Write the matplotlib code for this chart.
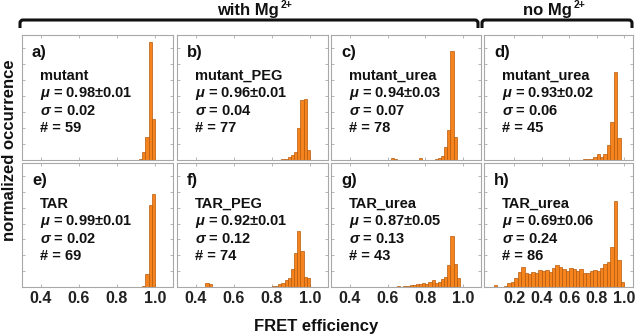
import numpy as np
import matplotlib
matplotlib.use("Agg")
import matplotlib.pyplot as plt
from matplotlib.path import Path
from matplotlib.patches import PathPatch

plt.rcParams['font.family'] = ['Liberation Sans', 'DejaVu Sans']
plt.rcParams['mathtext.fontset'] = 'custom'
plt.rcParams['mathtext.it'] = 'Liberation Sans:italic:bold'
plt.rcParams['mathtext.bf'] = 'Liberation Sans:bold'
plt.rcParams['mathtext.rm'] = 'Liberation Sans:bold'

# ---------------- data ----------------
letters = ["a)", "b)", "c)", "d)", "e)", "f)", "g)", "h)"]
samples = ["mutant", "mutant_PEG", "mutant_urea", "mutant_urea",
           "TAR", "TAR_PEG", "TAR_urea", "TAR_urea"]
mu_vals = ["0.98±0.01", "0.96±0.01", "0.94±0.03", "0.93±0.02",
           "0.99±0.01", "0.92±0.01", "0.87±0.05", "0.69±0.06"]
sigma_vals = ["0.02", "0.04", "0.07", "0.06", "0.02", "0.12", "0.13", "0.24"]
counts = ["59", "77", "78", "45", "69", "74", "43", "86"]
group_main = ["with Mg", "no Mg"]
group_sup = ["2+", "2+"]
xlabel = "FRET efficiency"
ylabel = "normalized occurrence"

# histograms, fine bins (width 1/60) for a-c, e-g; bins of 0.025 for d, h
bin_fine = 1 / 60
bin_wide = 0.025
# (first bin index, heights)
hist_a = (51, [0.005, 0.005, 0.005, 0.005, 0.01, 0.08, 0.23, 1.18, 0.41])
hist_b = (50, [0.005, 0.01, 0.01, 0.03, 0.05, 0.08, 0.32, 0.60, 0.61, 0.10])
hist_c = (30, [0.0, 0.0, 0.0, 0.0, 0.0, 0.004, 0.004, 0.025, 0.01, 0.004,
               0.004, 0.004, 0.004, 0.004, 0.004, 0.004, 0.02, 0.004, 0.004,
               0.004, 0.004, 0.01, 0.02, 0.04, 0.13, 0.30, 1.09, 0.23])
hist_d = (24, [0.004, 0.004, 0.004, 0.005, 0.01, 0.01, 0.01, 0.03, 0.06,
               0.03, 0.06, 0.15, 0.38, 0.88, 0.22])
hist_e = (54, [0.004, 0.005, 0.01, 0.13, 0.83, 0.94])
hist_f = (27, [0.04, 0.03, 0.0, 0.0, 0.0, 0.0, 0.0, 0.0, 0.0,
               0.0, 0.0, 0.0, 0.0, 0.0, 0.0, 0.0, 0.004, 0.004, 0.004,
               0.004, 0.004, 0.01, 0.01, 0.03, 0.04, 0.07, 0.09, 0.18, 0.34,
               0.56, 0.36, 0.10, 0.09])
hist_g = (33, [0.004, 0.004, 0.004, 0.005, 0.005, 0.005, 0.01, 0.005, 0.01,
               0.01, 0.02, 0.02, 0.03, 0.03, 0.04, 0.03, 0.05, 0.07, 0.04,
               0.05, 0.08, 0.10, 0.22, 0.51, 0.23, 0.09])
hist_h = (2, [0.02, 0.0, 0.0, 0.01, 0.04, 0.05, 0.09, 0.15, 0.20, 0.14,
              0.13, 0.15, 0.14, 0.17, 0.16, 0.17, 0.15, 0.19, 0.22, 0.20,
              0.18, 0.16, 0.19, 0.18, 0.16, 0.18, 0.14, 0.14, 0.16, 0.17,
              0.16, 0.19, 0.23, 0.25, 0.40, 0.87, 0.27, 0.05])
hists = [hist_a, hist_b, hist_c, hist_d, hist_e, hist_f, hist_g, hist_h]
widths = [bin_fine, bin_fine, bin_fine, bin_wide, bin_fine, bin_fine, bin_fine, bin_wide]

xticks_narrow = [0.4, 0.6, 0.8, 1.0]
xticks_wide = [0.2, 0.4, 0.6, 0.8, 1.0]

# ---------------- figure ----------------
W, H = 635, 334
fig = plt.figure(figsize=(W / 100, H / 100), dpi=100)

col_x = [22, 177, 331, 484]
col_w = [151, 151, 150, 149]
row_y = [35, 163]
row_h = [125, 124]

bar_face = '#F5841F'
bar_edge = '#B75A0A'
frame_col = '#A8A8A8'

for i in range(8):
    r, c = divmod(i, 4)
    ax = fig.add_axes([col_x[c] / W, 1 - (row_y[r] + row_h[r]) / H,
                       col_w[c] / W, row_h[r] / H])
    start, vals = hists[i]
    w = widths[i]
    centers = (np.arange(start, start + len(vals)) + 0.5) * w
    ax.bar(centers, vals, width=w, color=bar_face, edgecolor=bar_edge,
           linewidth=0.5, zorder=2)
    if c == 3:
        ax.set_xlim(-0.02, 1.065)
        ax.set_xticks(xticks_wide)
    else:
        ax.set_xlim(0.3, 1.095)
        ax.set_xticks(xticks_narrow)
    ax.set_ylim(0, 1.25)
    ax.set_yticks(np.arange(0, 1.25, 0.16))
    ax.tick_params(direction='in', length=2, width=0.6, color=frame_col,
                   top=True, right=True, labelleft=False,
                   labelsize=11.5, pad=3)
    for lab in ax.get_xticklabels():
        lab.set_fontweight('bold')
        lab.set_color('#222222')
    if r == 0:
        ax.tick_params(labelbottom=False)
    for s in ax.spines.values():
        s.set_color(frame_col)
        s.set_linewidth(0.8)
    ax.text(10 / col_w[c], 1 - 18 / row_h[r], letters[i], transform=ax.transAxes,
            fontsize=12, fontweight='bold', va='center', ha='left', color='#111111')
    lines = [samples[i], "$\\mu$ = " + mu_vals[i], "$\\sigma$ = " + sigma_vals[i],
             "# = " + counts[i]]
    for k, t in enumerate(lines):
        ax.text(18 / col_w[c], 1 - (41 + 17.5 * k) / row_h[r], t,
                transform=ax.transAxes, fontsize=10.5, fontweight='bold',
                va='center', ha='left', color='#111111')

fig.text(316 / W, 1 - 326 / H, xlabel, fontsize=12, fontweight='bold',
         ha='center', va='center', color='#111111')
fig.text(10 / W, 1 - 150 / H, ylabel, fontsize=12, fontweight='bold',
         ha='center', va='center', rotation=90, color='#111111')


def bracket(x0, x1, y, drop):
    xs0, xs1 = x0 / W, x1 / W
    yf = 1 - y / H
    yd = 1 - (y + drop) / H
    r = 3 / W
    rv = 3 / H
    verts = [(xs0, yd), (xs0, yf - rv), (xs0, yf), (xs0 + r, yf),
             (xs1 - r, yf), (xs1, yf), (xs1, yf - rv), (xs1, yd)]
    codes = [Path.MOVETO, Path.LINETO, Path.CURVE3, Path.CURVE3,
             Path.LINETO, Path.CURVE3, Path.CURVE3, Path.LINETO]
    p = PathPatch(Path(verts, codes), transform=fig.transFigure,
                  fill=False, lw=2.2, color='#111111')
    fig.patches.append(p)


bracket(20, 478, 20, 8)
bracket(482, 632, 20, 8)
# group labels with small superscripts placed right after the main text
renderer = fig.canvas.get_renderer()
for xm, main, sup in zip([217, 523], group_main, group_sup):
    t = fig.text(xm / W, 1 - 11 / H, main, fontsize=12, fontweight='bold',
                 ha='left', va='center', color='#111111')
    bb = t.get_window_extent(renderer=renderer)
    fig.text((bb.x1 + 1.5) / W, 1 - 5 / H, sup, fontsize=7.5, fontweight='bold',
             ha='left', va='center', color='#111111')

fig.savefig("out.png", dpi=100)
